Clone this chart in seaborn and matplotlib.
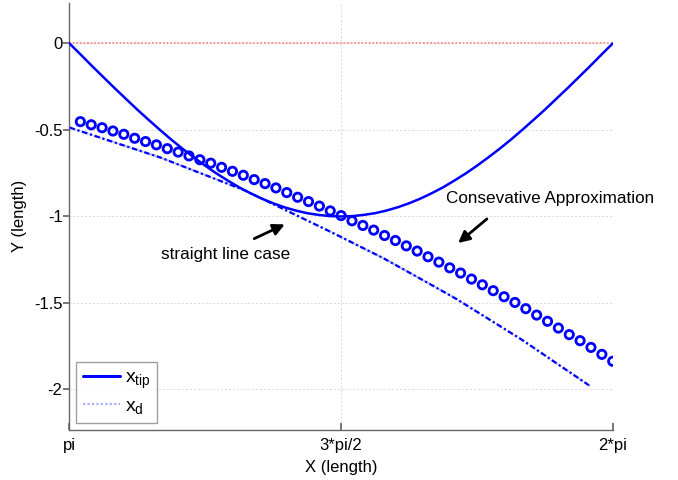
import matplotlib
matplotlib.use("Agg")
import matplotlib.pyplot as plt
import seaborn as sns
import pandas as pd
from matplotlib.lines import Line2D

# ---- data ----
tip_x = [3.1416, 3.2070, 3.2725, 3.3379, 3.4034, 3.4688, 3.5343, 3.5997, 3.6652, 3.7306,
         3.7961, 3.8615, 3.9270, 3.9924, 4.0579, 4.1233, 4.1888, 4.2542, 4.3197, 4.3851,
         4.4506, 4.5160, 4.5815, 4.6469, 4.7124, 4.7778, 4.8433, 4.9087, 4.9742, 5.0396,
         5.1051, 5.1705, 5.2360, 5.3014, 5.3669, 5.4323, 5.4978, 5.5632, 5.6287, 5.6941,
         5.7596, 5.8250, 5.8905, 5.9559, 6.0214, 6.0868, 6.1523, 6.2177, 6.2832]
tip_y = [0.0, -0.065, -0.131, -0.195, -0.259, -0.321, -0.383, -0.442, -0.500, -0.556,
         -0.609, -0.659, -0.707, -0.752, -0.793, -0.832, -0.866, -0.897, -0.924, -0.947,
         -0.966, -0.981, -0.991, -0.998, -1.000, -0.998, -0.991, -0.981, -0.966, -0.947,
         -0.924, -0.897, -0.866, -0.832, -0.793, -0.752, -0.707, -0.659, -0.609, -0.556,
         -0.500, -0.442, -0.383, -0.321, -0.259, -0.195, -0.131, -0.065, 0.0]

approx_x = [3.2044, 3.2673, 3.3301, 3.3929, 3.4558, 3.5186, 3.5814, 3.6442, 3.7071, 3.7699,
            3.8327, 3.8956, 3.9584, 4.0212, 4.0841, 4.1469, 4.2097, 4.2726, 4.3354, 4.3982,
            4.4611, 4.5239, 4.5867, 4.6496, 4.7124, 4.7752, 4.8381, 4.9009, 4.9637, 5.0265,
            5.0894, 5.1522, 5.2150, 5.2779, 5.3407, 5.4035, 5.4664, 5.5292, 5.5920, 5.6549,
            5.7177, 5.7805, 5.8434, 5.9062, 5.9690, 6.0319, 6.0947, 6.1575, 6.2204, 6.2832]
approx_y = [-0.452, -0.470, -0.487, -0.506, -0.525, -0.548, -0.567, -0.586, -0.608, -0.628,
            -0.650, -0.672, -0.692, -0.716, -0.739, -0.762, -0.787, -0.810, -0.835, -0.862,
            -0.889, -0.914, -0.940, -0.968, -0.995, -1.025, -1.052, -1.079, -1.110, -1.139,
            -1.170, -1.200, -1.233, -1.264, -1.297, -1.327, -1.362, -1.395, -1.429, -1.464,
            -1.497, -1.533, -1.570, -1.606, -1.645, -1.683, -1.718, -1.757, -1.797, -1.837]

d_x = [3.1416, 3.6690, 4.1566, 4.6482, 4.9565, 5.2266, 5.3810, 5.7569, 6.1519]
d_y = [-0.486, -0.660, -0.850, -1.087, -1.241, -1.391, -1.478, -1.712, -1.980]

zero_x = [3.1416, 6.2832]
zero_y = [0.0, 0.0]

x_ticks = [3.1416, 4.7124, 6.2832]
x_ticklabels = ["pi", "3*pi/2", "2*pi"]
y_ticks = [0, -0.5, -1, -1.5, -2]
y_ticklabels = ["0", "-0.5", "-1", "-1.5", "-2"]

# ---- style ----
sns.set_theme(style="white")
plt.rcParams["font.family"] = ["Liberation Sans", "DejaVu Sans"]
plt.rcParams["mathtext.fontset"] = "custom"
plt.rcParams["mathtext.rm"] = "Liberation Sans"
plt.rcParams["mathtext.it"] = "Liberation Sans"
plt.rcParams["text.color"] = "black"
plt.rcParams["axes.labelcolor"] = "black"
plt.rcParams["xtick.labelcolor"] = "black"
plt.rcParams["ytick.labelcolor"] = "black"

fig = plt.figure(figsize=(6.78, 4.80), dpi=100)
ax = fig.add_axes([0.1025, 0.1050, 0.8012, 0.8888])

tip_df = pd.DataFrame({"x": tip_x, "y": tip_y})
d_df = pd.DataFrame({"x": d_x, "y": d_y})
ap_df = pd.DataFrame({"x": approx_x, "y": approx_y})
z_df = pd.DataFrame({"x": zero_x, "y": zero_y})

sns.lineplot(data=z_df, x="x", y="y", ax=ax, color="#ff8a8a", linestyle=(0, (1, 1)),
             linewidth=1.3, sort=False, zorder=2)
sns.lineplot(data=d_df, x="x", y="y", ax=ax, color="#aab0ff", linestyle=(0, (1, 1)),
             linewidth=1.6, sort=False, zorder=3)
sns.lineplot(data=d_df, x="x", y="y", ax=ax, color="#0000ff", linestyle=(0, (2.5, 1.2, 1, 1.2)),
             linewidth=1.6, sort=False, zorder=3)
sns.lineplot(data=tip_df, x="x", y="y", ax=ax, color="#0000ff", linewidth=1.8,
             sort=False, zorder=4)
sns.scatterplot(data=ap_df, x="x", y="y", ax=ax, marker="o", s=36,
                facecolors="none", edgecolors="#0000ff", linewidths=2.0, zorder=5)

ax.set_xlim(3.1416, 6.2832)
ax.set_ylim(-2.232, 0.234)
ax.set_xticks(x_ticks)
ax.set_xticklabels(x_ticklabels)
ax.set_yticks(y_ticks)
ax.set_yticklabels(y_ticklabels)
ax.grid(True, color="#d9d9d9", linestyle=(0, (2, 2)), linewidth=0.7)
for s in ["top", "right"]:
    ax.spines[s].set_visible(False)
for s in ["left", "bottom"]:
    ax.spines[s].set_color("#666666")
    ax.spines[s].set_linewidth(1.0)
ax.tick_params(axis="x", direction="in", length=5, color="#666666", labelcolor="black",
               labelsize=12, pad=6, bottom=True)
ax.tick_params(axis="y", direction="out", length=4, color="#666666", labelcolor="black",
               labelsize=12, pad=1, left=True)
ax.set_xlabel("X (length)", fontsize=12, labelpad=5, color="black")
ax.set_ylabel("Y (length)", fontsize=12, labelpad=5, color="black")

# annotations
ax.text(4.0438, -1.2216, "straight line case", fontsize=12.3, ha="center", va="center",
        color="black")
ax.annotate("", xy=(4.4012, -1.039), xytext=(4.1953, -1.135),
            arrowprops=dict(arrowstyle="-|>", color="black", lw=2, mutation_scale=17))
ax.text(5.9206, -0.898, "Consevative Approximation", fontsize=12.3, ha="center", va="center",
        color="black")
ax.annotate("", xy=(5.3769, -1.164), xytext=(5.5678, -1.004),
            arrowprops=dict(arrowstyle="-|>", color="black", lw=2, mutation_scale=17))

# legend
handles = [Line2D([], [], color="#0000ff", linewidth=2.2),
           Line2D([], [], color="#aab0ff", linestyle=(0, (1, 1)), linewidth=1.6)]
leg = ax.legend(handles, [r"$\mathregular{x_{tip}}$", r"$\mathregular{x_{d}}$"],
                loc="lower left", bbox_to_anchor=(0.0, 0.0), fontsize=14,
                frameon=True, fancybox=False, edgecolor="#888888", handlelength=1.9,
                borderaxespad=0.35, handletextpad=0.25, labelspacing=0.35, borderpad=0.35)
leg.get_frame().set_linewidth(1.0)
for t in leg.get_texts():
    t.set_color("black")

fig.savefig("out.png", dpi=100)
